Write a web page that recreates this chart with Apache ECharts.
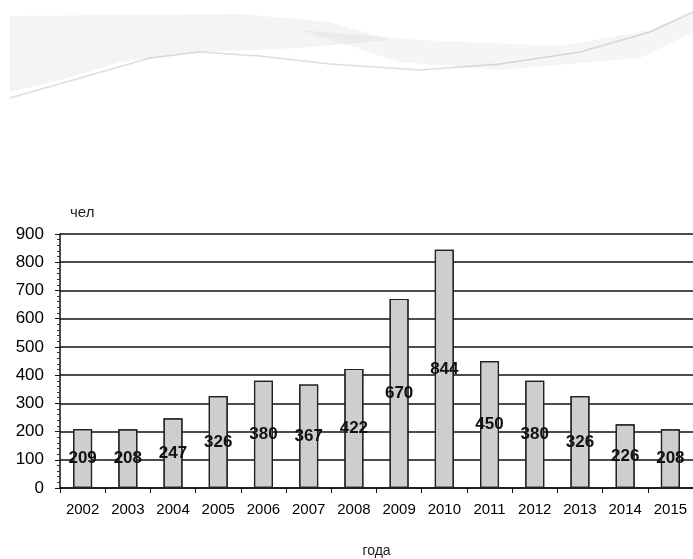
<!DOCTYPE html>
<html><head><meta charset="utf-8">
<script src="https://cdn.jsdelivr.net/npm/echarts@6/dist/echarts.min.js"></script>
<style>html,body{margin:0;padding:0;background:#fff}#c{width:693px;height:559px}</style>
</head><body><div id="c"></div>
<script>
const years = ['2002','2003','2004','2005','2006','2007','2008','2009','2010','2011','2012','2013','2014','2015'];
const people = [209,208,247,326,380,367,422,670,844,450,380,326,226,208];
const yTicks = {min:0, max:900, interval:100};

const chart = echarts.init(document.getElementById('c'));
chart.setOption({
  backgroundColor:'#fff',
  animation:false,
  graphic:[
    {type:'polygon', z:-1, shape:{points:[[10,16],[240,14],[330,22],[390,40],[300,48],[200,52],[120,62],[60,80],[10,92]]},
     style:{fill:'rgba(170,170,170,0.13)'}},
    {type:'polygon', z:-1, shape:{points:[[300,30],[420,40],[560,46],[650,30],[693,12],[693,32],[640,58],[500,70],[400,62]]},
     style:{fill:'rgba(160,160,160,0.11)'}},
    {type:'polyline', z:-1, smooth:0.4, shape:{points:[[10,98],[80,78],[150,58],[200,52],[260,56],[330,64],[420,70],[500,64],[580,52],[650,32],[693,12]]},
     style:{stroke:'rgba(120,120,120,0.25)', lineWidth:1.5, fill:null}}
  ],
  grid:{left:60, right:-1, top:234, bottom:65},
  xAxis:{
    type:'category', data:years,
    name:'года', nameLocation:'middle', nameGap:56,
    nameTextStyle:{fontFamily:'Liberation Sans, Arial', fontSize:14, color:'#222'},
    axisLine:{lineStyle:{color:'#111', width:1.5}},
    axisTick:{show:true, length:5, lineStyle:{color:'#111'}},
    axisLabel:{fontFamily:'Liberation Sans Narrow, Liberation Sans, Arial', fontSize:15, color:'#000', margin:14, interval:0}
  },
  yAxis:{
    type:'value', min:yTicks.min, max:yTicks.max, interval:yTicks.interval,
    name:'чел', nameLocation:'end', nameGap:14,
    nameTextStyle:{fontFamily:'Liberation Sans, Arial', fontSize:15, color:'#222', align:'left', padding:[0,0,0,10]},
    axisLine:{show:true, lineStyle:{color:'#111', width:1.5}},
    axisTick:{show:true, length:5, lineStyle:{color:'#111'}},
    minorTick:{show:true, splitNumber:5, length:3, lineStyle:{color:'#333'}},
    splitLine:{lineStyle:{color:'#111', width:1.6}},
    axisLabel:{fontFamily:'Liberation Sans Narrow, Liberation Sans, Arial', fontSize:17, color:'#000', margin:16}
  },
  series:[{
    type:'bar', data:people, barWidth:'42%',
    itemStyle:{color:'#cfcfcf', borderColor:'#222', borderWidth:1.2,
      decal:{symbol:'rect', symbolSize:0.5, dashArrayX:[1,2], dashArrayY:[1,2], color:'rgba(120,120,120,0.35)'}},
    label:{show:true, position:'inside', color:'#111', fontWeight:'bold',
      fontFamily:'Liberation Sans Narrow, Liberation Sans, Arial', fontSize:17}
  }]
});
</script></body></html>
